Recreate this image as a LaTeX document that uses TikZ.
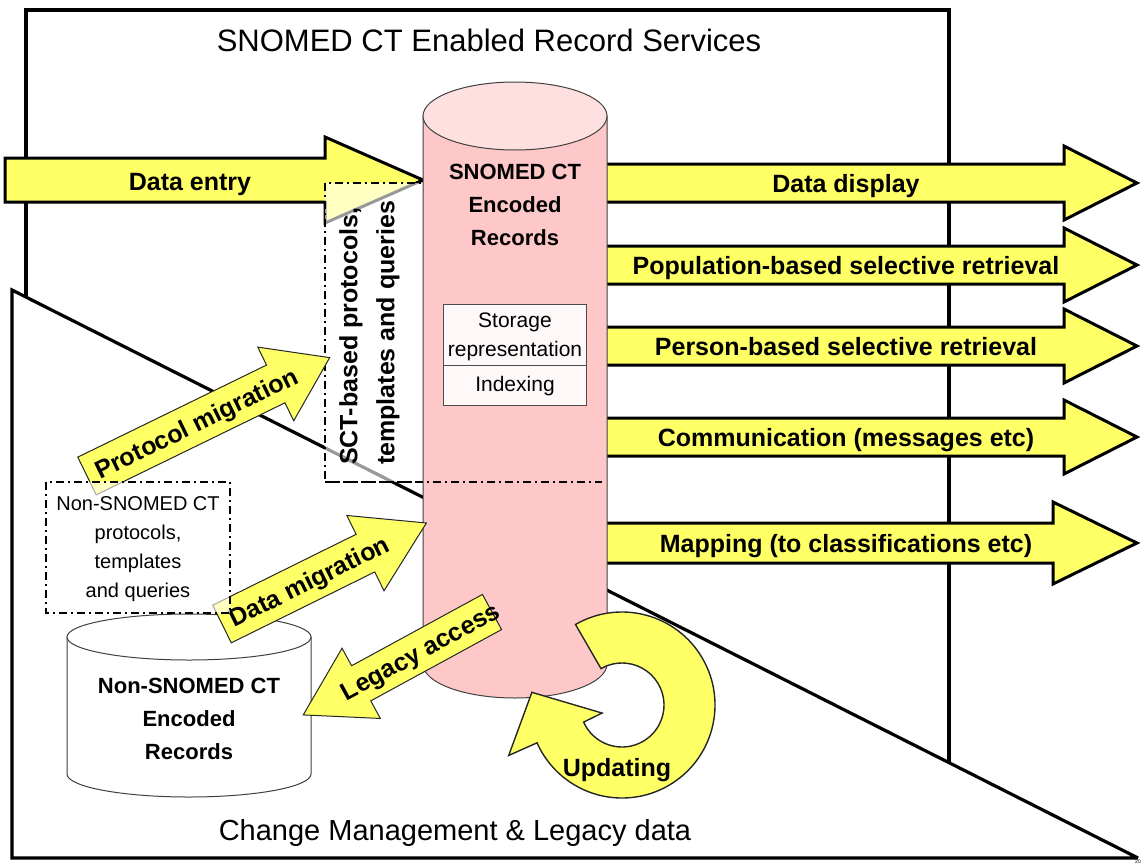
\documentclass[tikz,border=0pt]{standalone}
\usepackage{fontspec}
\setmainfont{Liberation Sans}
\definecolor{ayellow}{HTML}{FFFF66}
\definecolor{cylpink}{HTML}{FFC8C8}
\definecolor{cyltop}{HTML}{FFE0E0}
\definecolor{cellfill}{HTML}{FFF8F8}
\tikzset{
  frameline/.style={line width=3.2pt, line join=miter},
  bigarrow/.style={fill=ayellow, draw=black, line width=3pt, line join=miter},
  smallarrow/.style={fill=ayellow, draw=black!85, line width=1pt, line join=miter},
  dashdot/.style={draw=black, line width=1.5pt, dash pattern=on 8pt off 4pt on 2pt off 4pt},
  veil/.style={fill=white, fill opacity=0.6},
  cylline/.style={draw=black!75, line width=1pt},
  lbl/.style={font=\bfseries\fontsize{25}{28}\selectfont, inner sep=0pt, text height=18pt, text depth=0pt},
  boldtxt/.style={font=\bfseries\fontsize{22}{33}\selectfont, inner sep=0pt, align=center},
}
\newcommand\blockarrow[8]{%
  \begin{scope}[shift={(#2,#3)}, rotate=#4]
    \draw[#1] (0,-#6) -- ({#5-#8},-#6) -- ({#5-#8},-#7) -- (#5,0) -- ({#5-#8},#7) -- ({#5-#8},#6) -- (0,#6) -- cycle;
  \end{scope}}
\begin{document}
\begin{tikzpicture}[x=1pt,y=-1pt]
\useasboundingbox (0,0) rectangle (1144,868);
\fill[white] (0,0) rectangle (1144,868);

% frames
\draw[frameline] (1138,858) -- (12,858) -- (12,290) -- (1138,858);
\draw[frameline] (949,763) -- (949,10) -- (26,10) -- (26,297);
\node[font=\fontsize{31}{34}\selectfont, inner sep=0pt] (title) at (489,40) {SNOMED CT Enabled Record Services};
\node[font=\fontsize{29}{32}\selectfont, inner sep=0pt] (bottomtitle) at (455,833) {Change Management \& Legacy data};

% data entry
\blockarrow{bigarrow}{5}{180}{0}{418}{22}{43}{98}
\node[lbl] (dataentry) at (190,181) {Data entry};

% output arrows
\blockarrow{bigarrow}{598}{183}{0}{539}{19}{37}{73}
\blockarrow{bigarrow}{598}{265}{0}{539}{19}{37}{73}
\blockarrow{bigarrow}{598}{346}{0}{539}{19}{37}{73}
\blockarrow{bigarrow}{598}{437}{0}{539}{19}{37}{73}
\blockarrow{bigarrow}{598}{543}{0}{539}{20}{41}{84}
\node[lbl] (display) at (846,183) {Data display};
\node[lbl] (population) at (846,265) {Population-based selective retrieval};
\node[lbl] (person) at (846,346) {Person-based selective retrieval};
\node[lbl] (communication) at (846,437) {Communication (messages etc)};
\node[lbl] (mapping) at (846,543) {Mapping (to classifications etc)};

% SCT box
\draw[dashdot, veil] (325,183) rectangle (602,482);

% main cylinder
\draw[cylline, fill=cylpink] (423,116) -- (423,664) arc[start angle=180, end angle=0, x radius=92, y radius=34] -- (607,116) -- cycle;
\draw[cylline, fill=cyltop] (515,116) ellipse [x radius=92, y radius=34];
\draw[dashdot] (325,482) -- (602,482);
\node[boldtxt] (sct) at (515,205) {SNOMED CT\\Encoded\\Records};
\draw[draw=black!70, line width=1pt, fill=cellfill] (443,304) rectangle (586,405);
\draw[draw=black!70, line width=1pt] (443,365) -- (586,365);
\node[font=\fontsize{21}{29}\selectfont, inner sep=0pt, align=center] (storage) at (515,337) {Storage\\representation};
\node[font=\fontsize{21}{29}\selectfont, inner sep=0pt] (indexing) at (515,386) {Indexing};

\node[font=\bfseries\fontsize{25}{37}\selectfont, inner sep=0pt, align=left, rotate=90, anchor=north west] (sctbased) at (339,465) {SCT-based protocols,\\templates and queries};

% small cylinder
\draw[cylline, fill=white] (67,637) -- (67,774) arc[start angle=180, end angle=0, x radius=122, y radius=23] -- (311,637) -- cycle;
\draw[cylline, fill=white] (189,637) ellipse [x radius=122, y radius=23];
\node[boldtxt] (legacyrec) at (189,719) {Non-SNOMED CT\\Encoded\\Records};

% migration arrows
\blockarrow{smallarrow}{87}{476}{26}{270}{21}{41}{60}
\node[lbl, rotate=26] (protmig) at (196,423) {Protocol migration};
\blockarrow{smallarrow}{222}{624}{26.3}{228}{21}{42}{68}
\node[lbl, rotate=26.3] (datamig) at (309,581) {Data migration};
\blockarrow{smallarrow}{492}{612}{208.6}{215}{20}{40}{66}
\node[lbl, rotate=28.6] (legacy) at (420,651) {Legacy access};

% non-SNOMED protocols box
\draw[dashdot, veil] (46,482) rectangle (230,613);
\node[font=\fontsize{20}{29}\selectfont, inner sep=0pt, align=center] (nonsct) at (138,549) {Non-SNOMED CT\\protocols,\\templates\\and queries};

% updating
\begin{scope}[shift={(622,705)}, yscale=-1]
\draw[smallarrow, line width=1.4pt] (120:93) arc[start angle=120, end angle=-156, radius=93] -- (204:124) -- (172:91) -- (202:21.5) -- (204:42) arc[start angle=-156, end angle=120, radius=42] -- cycle;
\end{scope}
\node[lbl] (updating) at (617,767) {Updating};

\node[font=\fontsize{5}{5}\selectfont, inner sep=0pt] (mark) at (1138,862) {20};
\end{tikzpicture}
\end{document}
